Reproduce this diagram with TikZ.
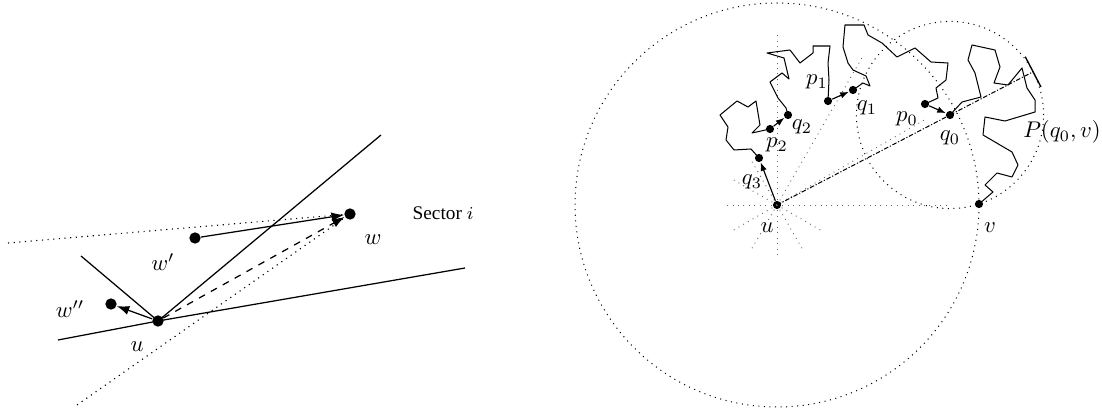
\documentclass[tikz,border=0pt]{standalone}
\usepackage{amsmath,amssymb}
\usepackage{fontspec}
\newfontfamily\sectorfont{Liberation Serif}
\usepackage{tikz}
\usetikzlibrary{arrows.meta, calc}
\tikzset{
  bigdot/.style={circle, fill, inner sep=0pt, minimum size=5pt},
  smalldot/.style={circle, fill, inner sep=0pt, minimum size=3.6pt},
  sectorline/.style={line width=0.55pt},
  bighop/.style={-{Latex[length=5.5pt,width=4pt]}, line width=0.55pt},
  hop/.style={-{Latex[length=3.8pt,width=2.8pt]}, line width=0.5pt},
  walk/.style={line width=0.45pt, line join=round},
  ray/.style={dotted, gray!80!black, line width=0.4pt},
  bound/.style={dotted, line width=0.45pt},
  lbl/.style={inner sep=0pt}
}

\begin{document}
\begin{tikzpicture}[x=0.441pt, y=0.441pt]
    \useasboundingbox (0,0) rectangle (1102,412);
    % left: sector i around u
    \node[bigdot] (u)  at (158, 91)  {};
    \node[bigdot] (w)  at (350,198)  {};
    \node[bigdot] (w1) at (195,174)  {};
    \node[bigdot] (w2) at (111,108)  {};
    \coordinate (lowA) at (58, 72);
    \coordinate (lowB) at (465,144);
    \coordinate (upL)  at (81,156);
    \coordinate (upR)  at (381,277);
    \coordinate (dotL) at (8,169);
    \coordinate (dotB) at (77,7);
    \draw[sectorline] (lowA) -- (u.center) -- (lowB);
    \draw[sectorline] (upL) -- (u.center) -- (upR);
    \draw[dotted, line width=0.5pt] (dotL) -- (w.center);
    \draw[dotted, line width=0.5pt] (dotB) -- (w.center);
    \draw[bighop, dashed] (u) -- (w);
    \draw[bighop] (w1) -- (w);
    \draw[bighop] (u) -- (w2);
    \node[lbl] at (373,172) {$w$};
    \node[lbl] at (163,150) {$w'$};
    \node[lbl] at (70,103)  {$w''$};
    \node[lbl] at (137,65)  {$u$};
    \node[lbl] at (443,199) {\sectorfont\fontsize{8.5}{10}\selectfont Sector $i$};

    % right: walk from u towards v
    \node[smalldot] (ru) at (777,207) {};
    \node[smalldot] (v)  at (979,208) {};
    \node[smalldot] (q0) at (950,297) {};
    \node[smalldot] (p0) at (925,308) {};
    \node[smalldot] (q1) at (853,322) {};
    \node[smalldot] (p1) at (828,311) {};
    \node[smalldot] (q2) at (788,297) {};
    \node[smalldot] (p2) at (770,283) {};
    \node[smalldot] (q3) at (759,254) {};
    \foreach \a in {120,150,...,330}
      \draw[ray] (ru.center) -- ++(\a:50);
    \foreach \a in {0,30,60,90}
      \draw[ray] (ru.center) -- ++(\a:172);
    \draw[bound] let \p1 = ($(v)-(ru)$) in (ru.center) circle ({veclen(\x1,\y1)});
    \draw[bound] let \p1 = ($(v)-(q0)$) in (q0.center) circle ({veclen(\x1,\y1)});
    \coordinate (E) at ($(q0.center)!-41.3pt!(ru.center)$);
    \draw[line width=0.45pt, dash pattern=on 2pt off 0.8pt on 0.5pt off 0.8pt] (ru.center) -- (E);
    \draw[line width=0.6pt] ($(E)!7.5pt!90:(ru.center)$) -- ($(E)!7.5pt!-90:(ru.center)$);
    \draw[walk] (q3.center) -- (751,263) -- (734,262) -- (726,272) -- (728,285) -- (720,297)
      -- (737,311) -- (748,305) -- (756,311) -- (760,287) -- (752,279) -- (p2.center);
    \draw[walk] (q2.center) -- (786,304) -- (778,314) -- (770,330) -- (782,339) -- (789,333)
      -- (784,354) -- (767,359) -- (790,362) -- (800,349) -- (813,359) -- (813,366)
      -- (830,366) -- (828,349) -- (829,332) -- (p1.center);
    \draw[walk] (q1.center) -- (863,329) -- (870,326) -- (866,336) -- (853,342) -- (848,349)
      -- (843,365) -- (845,387) -- (864,387) -- (868,377) -- (882,369) -- (897,355)
      -- (915,364) -- (931,350) -- (948,349) -- (946,332) -- (936,324) -- (938,314)
      -- (p0.center);
    \draw[walk] (q0.center) -- (962,310) -- (981,315) -- (975,339) -- (968,352) -- (972,367)
      -- (995,362) -- (1000,345) -- (994,329) -- (1008,327) -- (1022,344) -- (1027,324)
      -- (1035,312) -- (1035,300) -- (1005,291) -- (985,295) -- (983,277) -- (1012,260)
      -- (1018,247) -- (1012,235) -- (997,239) -- (985,227) -- (993,220) -- (v.center);
    \draw[hop] (ru) -- (q3);
    \draw[hop] (p2) -- (q2);
    \draw[hop] (p1) -- (q1);
    \draw[hop] (p0) -- (q0);
    \node[lbl] at (767,184)  {$u$};
    \node[lbl] at (990,184)  {$v$};
    \node[lbl] at (752,230)  {$q_3$};
    \node[lbl] at (777,267)  {$p_2$};
    \node[lbl] at (802,285)  {$q_2$};
    \node[lbl] at (817,330)  {$p_1$};
    \node[lbl] at (867,304)  {$q_1$};
    \node[lbl] at (907,293)  {$p_0$};
    \node[lbl] at (950,274)  {$q_0$};
    \node[lbl] at (1062,280) {$P(q_0,v)$};
  \end{tikzpicture}
\end{document}
